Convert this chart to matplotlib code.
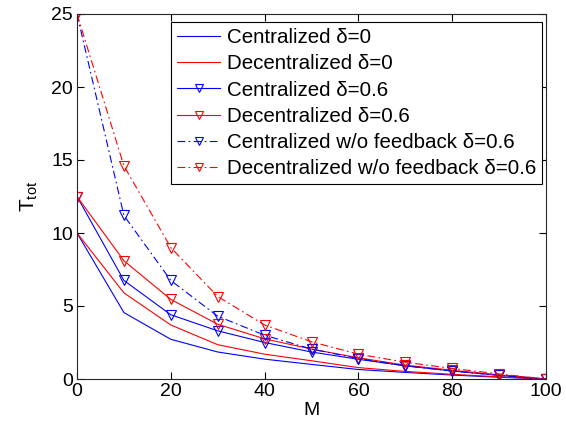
import numpy as np
import matplotlib
matplotlib.use('Agg')
import matplotlib.pyplot as plt

plt.rcParams['font.family'] = ['Liberation Sans', 'DejaVu Sans']
plt.rcParams['mathtext.default'] = 'regular'

# values
M = [0, 10, 20, 30, 40, 50, 60, 70, 80, 90, 100]
cen_d0 = [10, 4.55, 2.72, 1.85, 1.36, 1.0, 0.65, 0.45, 0.27, 0.12, 0]
dec_d0 = [10, 5.9, 3.7, 2.35, 1.7, 1.25, 0.78, 0.52, 0.32, 0.15, 0]
cen_d06 = [12.5, 6.75, 4.4, 3.3, 2.5, 1.85, 1.35, 0.9, 0.55, 0.25, 0]
dec_d06 = [12.5, 8.1, 5.45, 3.75, 2.75, 2.05, 1.45, 0.95, 0.6, 0.28, 0]
cen_nofb = [25, 11.2, 6.75, 4.3, 3.0, 2.05, 1.4, 0.9, 0.55, 0.25, 0]
dec_nofb = [25, 14.6, 9.0, 5.65, 3.7, 2.55, 1.7, 1.15, 0.72, 0.35, 0]

labels = ['Centralized \u03b4=0', 'Decentralized \u03b4=0',
          'Centralized \u03b4=0.6', 'Decentralized \u03b4=0.6',
          'Centralized w/o feedback \u03b4=0.6',
          'Decentralized w/o feedback \u03b4=0.6']

fig = plt.figure(figsize=(5.66, 4.28), dpi=100)
ax = fig.add_axes([77/566, 49/428, 469/566, 365/428])

lw = 0.8
dashdot = (0, (7, 3, 1.5, 3))
mk = dict(marker='v', markersize=7, markerfacecolor='none', markeredgewidth=0.8)

ax.plot(M, cen_d0, color='b', lw=lw, label=labels[0])
ax.plot(M, dec_d0, color='r', lw=lw, label=labels[1])
ax.plot(M, cen_d06, color='b', lw=lw, markeredgecolor='b', label=labels[2], **mk)
ax.plot(M, dec_d06, color='r', lw=lw, markeredgecolor='r', label=labels[3], **mk)
ax.plot(M, cen_nofb, color='b', lw=lw, ls=dashdot, markeredgecolor='b', label=labels[4], **mk)
ax.plot(M, dec_nofb, color='r', lw=lw, ls=dashdot, markeredgecolor='r', label=labels[5], **mk)

ax.set_xlim(0, 100)
ax.set_ylim(0, 25)
ax.set_xticks(np.arange(0, 101, 20))
ax.set_yticks(np.arange(0, 26, 5))
ax.tick_params(direction='in', top=True, right=True, length=5, width=0.8, labelsize=14, pad=3)
for s in ax.spines.values():
    s.set_linewidth(0.8)
    s.set_color('#262626')

ax.set_xlabel('M', fontsize=14, labelpad=1)
ax.set_ylabel('T$_{tot}$', fontsize=15, labelpad=8)

leg = ax.legend(loc='upper right', bbox_to_anchor=(465/469, 357/365), fontsize=14.8,
                frameon=True, fancybox=False, framealpha=1, edgecolor='black',
                handlelength=2.1, handletextpad=0.3, labelspacing=0.35,
                borderpad=0.3, borderaxespad=0)
leg.get_frame().set_linewidth(0.8)
for h in leg.legend_handles:
    h.set_markersize(6)

plt.savefig('out.png', dpi=100)
